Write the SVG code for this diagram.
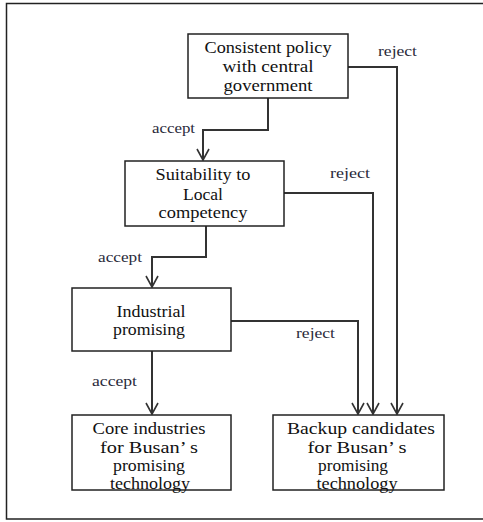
<svg xmlns="http://www.w3.org/2000/svg" width="483" height="522" viewBox="0 0 483 522">
<style>
.box{fill:#fff;stroke:#222;stroke-width:1.5}
.t{font-family:"Liberation Serif",serif;font-size:16px;fill:#111;text-anchor:middle}
.l{font-family:"Liberation Serif",serif;font-size:14px;fill:#2a2a3a}
.c{fill:none;stroke:#333;stroke-width:2}
</style>
<defs>
<marker id="ah" markerUnits="userSpaceOnUse" markerWidth="16" markerHeight="16" viewBox="-13 -8 16 16" refX="0" refY="0" orient="auto">
<path d="M-11,-6 L0,0 L-11,6" fill="none" stroke="#333" stroke-width="1.6"/>
</marker>
</defs>
<rect x="6.5" y="3.5" width="490" height="515.5" fill="#fff" stroke="#222" stroke-width="1.5"/>
<g id="connectors">
<path class="c" d="M348,67 H397 V414" marker-end="url(#ah)"/>
<path class="c" d="M268,98 V130 H203 V160" marker-end="url(#ah)"/>
<path class="c" d="M284,193 H373 V414" marker-end="url(#ah)"/>
<path class="c" d="M206,226 V257 H152 V287" marker-end="url(#ah)"/>
<path class="c" d="M231,321 H358 V414" marker-end="url(#ah)"/>
<path class="c" d="M152,351 V414" marker-end="url(#ah)"/>
<text class="l" x="378" y="56" textLength="39" lengthAdjust="spacingAndGlyphs">reject</text>
<text class="l" x="330" y="178" textLength="40" lengthAdjust="spacingAndGlyphs">reject</text>
<text class="l" x="296" y="338" textLength="39" lengthAdjust="spacingAndGlyphs">reject</text>
<text class="l" x="152" y="133" textLength="43" lengthAdjust="spacingAndGlyphs">accept</text>
<text class="l" x="98" y="262" textLength="44" lengthAdjust="spacingAndGlyphs">accept</text>
<text class="l" x="92" y="386" textLength="45" lengthAdjust="spacingAndGlyphs">accept</text>
</g>
<g id="n1">
<rect class="box" x="188" y="34" width="160" height="64"/>
<text class="t" x="268" y="53" textLength="127" lengthAdjust="spacingAndGlyphs">Consistent policy</text>
<text class="t" x="268" y="72" textLength="91" lengthAdjust="spacingAndGlyphs">with central</text>
<text class="t" x="268" y="91" textLength="89" lengthAdjust="spacingAndGlyphs">government</text>
</g>
<g id="n2">
<rect class="box" x="125" y="161" width="159" height="65"/>
<text class="t" x="203" y="180" textLength="95" lengthAdjust="spacingAndGlyphs">Suitability to</text>
<text class="t" x="203" y="200" textLength="40" lengthAdjust="spacingAndGlyphs">Local</text>
<text class="t" x="203" y="218" textLength="89" lengthAdjust="spacingAndGlyphs">competency</text>
</g>
<g id="n3">
<rect class="box" x="72" y="288" width="159" height="63"/>
<text class="t" x="151" y="317" textLength="69" lengthAdjust="spacingAndGlyphs">Industrial</text>
<text class="t" x="149" y="335" textLength="72" lengthAdjust="spacingAndGlyphs">promising</text>
</g>
<g id="n4">
<rect class="box" x="72" y="415" width="159" height="75"/>
<text class="t" x="149" y="434" textLength="113" lengthAdjust="spacingAndGlyphs">Core industries</text>
<text class="t" x="149" y="453" textLength="98" lengthAdjust="spacingAndGlyphs">for Busan’ s</text>
<text class="t" x="149" y="471" textLength="72" lengthAdjust="spacingAndGlyphs">promising</text>
<text class="t" x="150" y="489" textLength="80" lengthAdjust="spacingAndGlyphs">technology</text>
</g>
<g id="n5">
<rect class="box" x="273" y="415" width="171" height="75"/>
<text class="t" x="361" y="434" textLength="148" lengthAdjust="spacingAndGlyphs">Backup candidates</text>
<text class="t" x="357" y="453" textLength="99" lengthAdjust="spacingAndGlyphs">for Busan’ s</text>
<text class="t" x="353" y="471" textLength="70" lengthAdjust="spacingAndGlyphs">promising</text>
<text class="t" x="357" y="489" textLength="81" lengthAdjust="spacingAndGlyphs">technology</text>
</g>
</svg>
